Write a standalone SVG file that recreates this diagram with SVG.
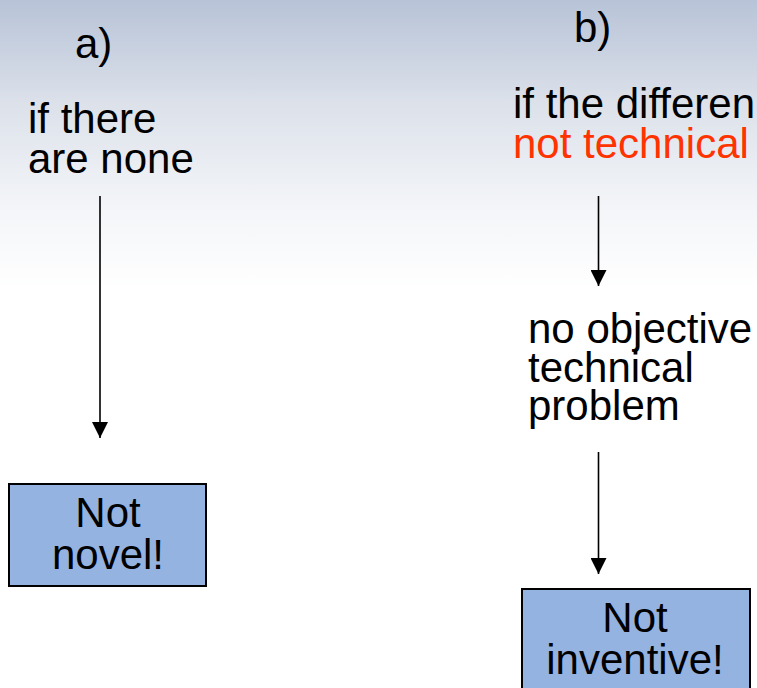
<svg xmlns="http://www.w3.org/2000/svg" width="757" height="688" viewBox="0 0 757 688">
<defs>
<linearGradient id="bg" x1="0" y1="0" x2="0" y2="688" gradientUnits="userSpaceOnUse">
<stop offset="0" stop-color="#b7c3d7"/>
<stop offset="0.15" stop-color="#dce1ea"/>
<stop offset="0.3" stop-color="#f3f5f8"/>
<stop offset="0.42" stop-color="#ffffff"/>
<stop offset="1" stop-color="#ffffff"/>
</linearGradient>
<marker id="ah" viewBox="0 0 16 16" refX="16" refY="8" markerWidth="16" markerHeight="16" markerUnits="userSpaceOnUse" orient="auto">
<polygon points="0,0 16,8 0,16" fill="#000"/>
</marker>
<style>
text{font-family:"Liberation Sans",Arial,sans-serif;font-size:42px;fill:#000}
.red{fill:#ff3300}
.box{fill:#95b3e0;stroke:#000;stroke-width:2}
.conn{stroke:#000;stroke-width:1.6;fill:none}
.mid{text-anchor:middle}
</style>
</defs>
<rect x="0" y="0" width="757" height="688" fill="url(#bg)"/>
<g id="label-a"><text x="75" y="58">a)</text></g>
<g id="label-b"><text x="574" y="42">b)</text></g>
<g id="cond-a"><text x="28" y="133">if there</text><text x="28" y="173">are none</text></g>
<g id="cond-b"><text x="513" y="118">if the differen</text><text x="513" y="158" class="red">not technical</text></g>
<g id="problem"><text x="528" y="343">no objective</text><text x="528" y="382">technical</text><text x="528" y="420">problem</text></g>
<g id="not-novel"><rect class="box" x="9" y="484" width="197" height="102"/><text class="mid" x="108" y="527">Not</text><text class="mid" x="108" y="569">novel!</text></g>
<g id="not-inventive"><rect class="box" x="522" y="589" width="228" height="104"/><text class="mid" x="635" y="632">Not</text><text class="mid" x="635" y="674">inventive!</text></g>
<g id="connectors">
<path class="conn" d="M100,196 V438" marker-end="url(#ah)"/>
<path class="conn" d="M598.5,196 V286" marker-end="url(#ah)"/>
<path class="conn" d="M598.5,452 V574" marker-end="url(#ah)"/>
</g>
</svg>
